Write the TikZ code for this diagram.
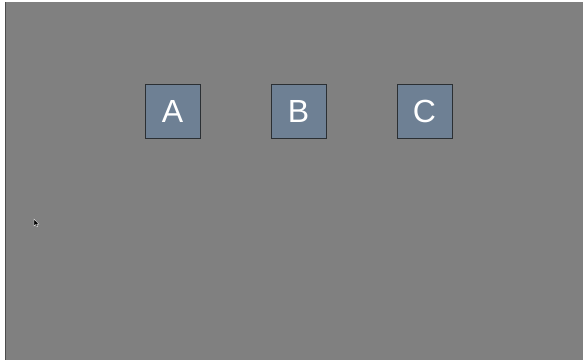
\documentclass[tikz,border=0pt]{standalone}
\usepackage{fontspec}
\setmainfont{Liberation Sans}
\definecolor{bggray}{HTML}{808080}
\definecolor{boxfill}{HTML}{6E8094}
\definecolor{boxline}{HTML}{2B2F33}
\begin{document}
\begin{tikzpicture}[x=1pt,y=-1pt,
  letterbox/.style={draw=boxline,line width=1pt,fill=boxfill,minimum width=55pt,minimum height=54pt,inner sep=0pt,text=white,font=\fontsize{32}{32}\selectfont}]
\useasboundingbox (0,0) rectangle (584,360);
\fill[white] (0,0) rectangle (584,360);
\fill[bggray] (5,2) rectangle (583,360);
\draw[black!70,line width=1pt] (5.5,2) -- (5.5,360);
\node[letterbox] (A) at (172.5,111) {A};
\node[letterbox] (B) at (298.5,111) {B};
\node[letterbox] (C) at (424.5,111) {C};
\fill[black,draw=white!70,line width=0.3pt] (34,219) -- (34,226) -- (35.6,224.6) -- (36.8,227) -- (37.8,226.5) -- (36.7,224.2) -- (38.8,224.2) -- cycle;
\end{tikzpicture}
\end{document}
